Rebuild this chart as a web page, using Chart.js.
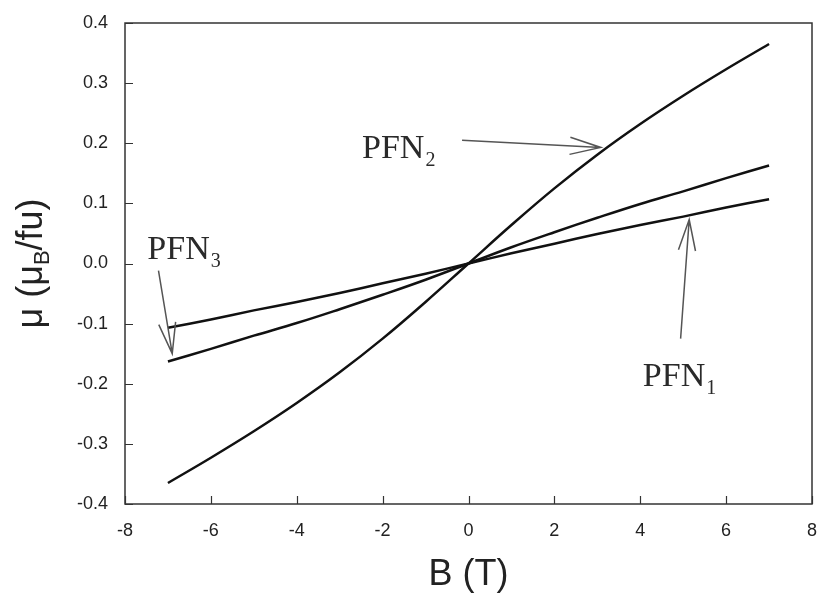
<!DOCTYPE html>
<html lang="en">
<head>
    <meta charset="UTF-8">
    <title>Magnetization vs field</title>
    <script src="https://cdn.jsdelivr.net/npm/chart.js"></script>
    <style>
        html, body { margin: 0; padding: 0; background: #fff; }
        #wrap { width: 817px; height: 600px; }
    </style>
</head>
<body>
    <div id="wrap"><canvas id="magChart" width="817" height="600"></canvas></div>

    <script>
        // field values (T) and magnetization per formula unit
        const fieldB = [-7, -6, -5, -4, -3, -2, -1, 0, 1, 2, 3, 4, 5, 6, 7];
        const pfn1 = [-0.107, -0.093, -0.078, -0.064, -0.049, -0.033, -0.017, 0, 0.017, 0.033, 0.049, 0.064, 0.078, 0.093, 0.107];
        const pfn3 = [-0.163, -0.142, -0.120, -0.099, -0.076, -0.052, -0.027, 0, 0.027, 0.052, 0.076, 0.099, 0.120, 0.142, 0.163];
        const pfn2 = [-0.365, -0.323, -0.279, -0.232, -0.181, -0.125, -0.064, 0, 0.064, 0.125, 0.181, 0.232, 0.279, 0.323, 0.365];
        const xTicks = [-8, -6, -4, -2, 0, 2, 4, 6, 8];
        const yTicks = [-0.4, -0.3, -0.2, -0.1, 0.0, 0.1, 0.2, 0.3, 0.4];

        // text labels with arrows, in data units
        const notes = [
            { sub: '2', tx: -2.48, ty: 0.175, from: [-0.15, 0.205], to: [3.08, 0.193] },
            { sub: '3', tx: -7.48, ty: 0.008, from: [-7.22, -0.012], to: [-6.9, -0.150] },
            { sub: '1', tx: 4.06, ty: -0.203, from: [4.94, -0.125], to: [5.14, 0.073] }
        ];

        const toPoints = (ys) => fieldB.map((b, i) => ({ x: b, y: ys[i] }));

        const sansFont = "'Liberation Sans', Arial, sans-serif";
        const serifFont = "'Liberation Serif', 'Times New Roman', serif";

        // frame, inward ticks, axis titles and arrow notes
        const decorPlugin = {
            id: 'decor',
            afterDatasetsDraw(chart) {
                const ctx = chart.ctx;
                const area = chart.chartArea;
                const xs = chart.scales.x;
                const ys = chart.scales.y;
                ctx.save();

                ctx.strokeStyle = '#333';
                ctx.lineWidth = 1.5;
                ctx.strokeRect(area.left, area.top, area.right - area.left, area.bottom - area.top);

                ctx.lineWidth = 1.2;
                ctx.beginPath();
                xTicks.forEach(v => {
                    const px = Math.round(xs.getPixelForValue(v)) + 0.5;
                    ctx.moveTo(px, area.bottom);
                    ctx.lineTo(px, area.bottom - 8);
                });
                yTicks.forEach(v => {
                    const py = Math.round(ys.getPixelForValue(v)) + 0.5;
                    ctx.moveTo(area.left, py);
                    ctx.lineTo(area.left + 8, py);
                });
                ctx.stroke();

                // x title
                ctx.fillStyle = '#222';
                ctx.font = '36px ' + sansFont;
                ctx.textAlign = 'center';
                ctx.textBaseline = 'middle';
                ctx.fillText('B (T)', (area.left + area.right) / 2, 575);

                // y title with subscript
                ctx.translate(42, (area.top + area.bottom) / 2);
                ctx.rotate(-Math.PI / 2);
                ctx.textAlign = 'left';
                ctx.textBaseline = 'alphabetic';
                const big = '36px ' + sansFont;
                const small = '22px ' + sansFont;
                const p1 = '\u03bc (\u03bc', p2 = 'B', p3 = '/fu)';
                ctx.font = big;
                const w1 = ctx.measureText(p1).width, w3 = ctx.measureText(p3).width;
                ctx.font = small;
                const w2 = ctx.measureText(p2).width;
                let cx = -(w1 + w2 + w3) / 2;
                ctx.font = big;
                ctx.fillText(p1, cx, 0);
                cx += w1;
                ctx.font = small;
                ctx.fillText(p2, cx, 7);
                cx += w2;
                ctx.font = big;
                ctx.fillText(p3, cx, 0);
                ctx.setTransform(1, 0, 0, 1, 0, 0);

                // notes
                notes.forEach(n => {
                    const x0 = xs.getPixelForValue(n.from[0]), y0 = ys.getPixelForValue(n.from[1]);
                    const x1 = xs.getPixelForValue(n.to[0]), y1 = ys.getPixelForValue(n.to[1]);
                    ctx.strokeStyle = '#555';
                    ctx.lineWidth = 1.5;
                    ctx.beginPath();
                    ctx.moveTo(x0, y0);
                    ctx.lineTo(x1, y1);
                    const ang = Math.atan2(y1 - y0, x1 - x0);
                    const len = 32, spread = 0.27;
                    ctx.moveTo(x1 - len * Math.cos(ang - spread), y1 - len * Math.sin(ang - spread));
                    ctx.lineTo(x1, y1);
                    ctx.lineTo(x1 - len * Math.cos(ang + spread), y1 - len * Math.sin(ang + spread));
                    ctx.stroke();

                    const tx = xs.getPixelForValue(n.tx), ty = ys.getPixelForValue(n.ty);
                    ctx.fillStyle = '#2a2a2a';
                    ctx.textAlign = 'left';
                    ctx.textBaseline = 'alphabetic';
                    ctx.font = '34px ' + serifFont;
                    ctx.fillText('PFN', tx, ty);
                    const w = ctx.measureText('PFN').width;
                    ctx.font = '20px ' + serifFont;
                    ctx.fillText(n.sub, tx + w + 1, ty + 8);
                });

                ctx.restore();
            }
        };

        const lineStyle = {
            borderColor: '#111',
            borderWidth: 2.5,
            pointRadius: 0,
            fill: false,
            tension: 0.4
        };

        new Chart(document.getElementById('magChart').getContext('2d'), {
            type: 'line',
            data: {
                datasets: [
                    Object.assign({ label: 'PFN1', data: toPoints(pfn1) }, lineStyle),
                    Object.assign({ label: 'PFN3', data: toPoints(pfn3) }, lineStyle),
                    Object.assign({ label: 'PFN2', data: toPoints(pfn2) }, lineStyle)
                ]
            },
            options: {
                responsive: false,
                animation: false,
                layout: { padding: { top: 23, right: 5, left: 0, bottom: 0 } },
                plugins: {
                    legend: { display: false },
                    tooltip: { enabled: false }
                },
                scales: {
                    x: {
                        type: 'linear',
                        min: -8,
                        max: 8,
                        grid: { display: false, drawTicks: false },
                        border: { display: false },
                        ticks: {
                            stepSize: 2,
                            padding: 16,
                            color: '#222',
                            font: { family: sansFont, size: 18 }
                        },
                        afterFit(scale) {
                            scale.height = 96;
                            scale.paddingLeft = 0;
                            scale.paddingRight = 0;
                        }
                    },
                    y: {
                        type: 'linear',
                        min: -0.4,
                        max: 0.4,
                        grid: { display: false, drawTicks: false },
                        border: { display: false },
                        ticks: {
                            stepSize: 0.1,
                            padding: 17,
                            color: '#222',
                            font: { family: sansFont, size: 18 },
                            callback: v => v.toFixed(1)
                        },
                        afterFit(scale) {
                            scale.width = 125;
                            scale.paddingTop = 0;
                            scale.paddingBottom = 0;
                        }
                    }
                }
            },
            plugins: [decorPlugin]
        });
    </script>
</body>
</html>
